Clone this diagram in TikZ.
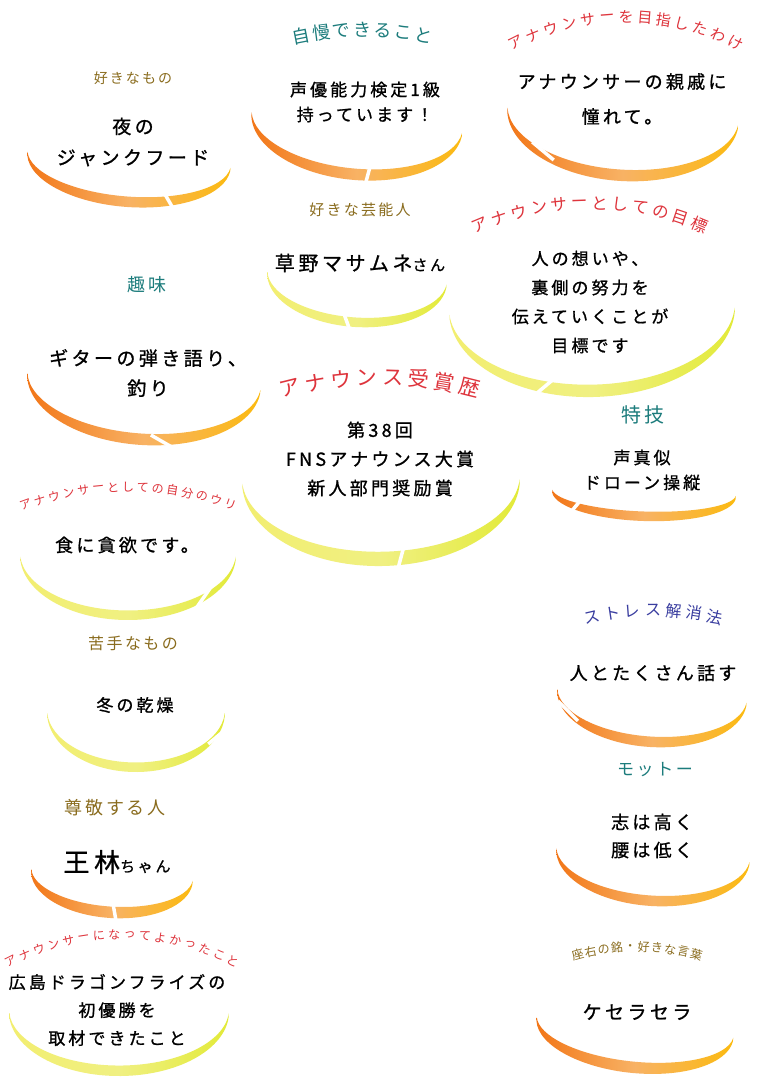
\documentclass[tikz,border=0pt]{standalone}
\usepackage{fontspec}
\usepackage{tikz}
\usetikzlibrary{calc}
\newfontfamily\jp[FakeBold=1,LetterSpace=18]{Noto Sans CJK JP}
\newfontfamily\jph[LetterSpace=15]{Noto Sans CJK JP}
\newfontfamily\jpa{Noto Sans CJK JP}
\definecolor{tealhead}{RGB}{28,124,124}
\definecolor{olivehead}{RGB}{138,108,30}
\definecolor{redhead}{RGB}{222,52,60}
\definecolor{bluehead}{RGB}{58,62,160}
\definecolor{bowlorange}{RGB}{242,118,24}
\definecolor{bowlpeach}{RGB}{248,178,100}
\definecolor{bowlamber}{RGB}{251,186,16}
\definecolor{bowllemon}{RGB}{242,238,112}
\definecolor{bowlpale}{RGB}{240,240,130}
\definecolor{bowllime}{RGB}{226,234,56}
\tikzset{%
  orangebowl/.style = {left color=bowlorange, right color=bowlamber,
        middle color=bowlpeach},
  yellowbowl/.style = {left color=bowllemon, right color=bowllime,
        middle color=bowlpale},
  cut/.style = {draw=white, line width=3.5pt},
  body/.style 2 args = {align=center, text=black,
        font=\jp\fontsize{#1}{#2}\selectfont},
  head/.style 2 args = {text=#2, font=\jph\fontsize{#1}{#1}\selectfont},
  arch/.style 2 args = {text=#2, inner sep=0pt,
        font=\jpa\fontsize{#1}{#1}\selectfont}
}
% centre, x radius, y radius, thickness, tilt, style
\newcommand{\bowl}[6]{%
  \shade[#6, shift={(#1)}, rotate=#5]
    (176:#2 and #3) arc[start angle=176, end angle=4, x radius=#2, y radius=#3]
    -- ++(0,-#4*0.3)
    arc[start angle=4, end angle=176, x radius=#2, y radius=#3-#4*0.7] -- cycle;
}
\newcommand{\notch}[2]{\draw[cut, shift={(#1)}, rotate=#2] (0,-14) -- (0,14);}
% name, centre, radius, step, count, style, letters
\newcommand{\archhead}[7]{%
  \foreach \ch [count=\i] in {#7} {
    \pgfmathsetmacro\del{((#5+1)/2-\i)*#4}
    \pgfmathsetmacro\ang{270-\del}
    \node[#6, rotate=\del] (#1-\i) at ($(#2)+(\ang:#3)$) {\ch};
  }
}
\begin{document}
\begin{tikzpicture}[x=1pt, y=-1pt]
    \path[fill=white] (0,0) rectangle (756,1084);
    \useasboundingbox (0,0) rectangle (756,1084);

    % bowls
    \bowl{129,160}{102}{47}{11}{-4.5}{orangebowl}
    \notch{170,203}{30}
    \bowl{357,122}{106}{58}{12}{-5.5}{orangebowl}
    \notch{367,178}{-15}
    \bowl{623,115}{116}{66}{12}{-4}{orangebowl}
    \notch{543,151}{50}
    \bowl{144,381}{117}{64}{12}{-4}{orangebowl}
    \notch{163,442}{60}
    \bowl{357,278}{90}{49}{10}{-4}{yellowbowl}
    \notch{348,325}{20}
    \bowl{592,309}{143}{88}{13}{1.5}{yellowbowl}
    \notch{543,388}{-50}
    \bowl{381,480}{139}{86}{15}{1}{yellowbowl}
    \notch{400,561}{-15}
    \bowl{644,494}{92}{27}{10}{-2}{orangebowl}
    \notch{570,513}{-40}
    \bowl{128,555}{108}{65}{10}{0}{yellowbowl}
    \notch{204,597}{-35}
    \bowl{136,712}{89}{60}{10}{0}{yellowbowl}
    \notch{219,735}{-50}
    \bowl{112,876}{81}{42}{12}{-4}{orangebowl}
    \notch{115,915}{10}
    \bowl{119,1012}{110}{64}{11}{0}{yellowbowl}
    \bowl{652,696}{95}{51}{11}{-4}{orangebowl}
    \notch{568,711}{45}
    \bowl{653,855}{97}{51}{11}{-4}{orangebowl}
    \bowl{635,1028}{99}{45}{12}{-6}{orangebowl}

    % headings
    \node[head={14}{olivehead}] (likes-h) at (133,78) {好きなもの};
    \archhead{boast}{362,348}{318}{3.7}{7}{arch={18}{tealhead}}{自,慢,で,き,る,こ,と}
    \archhead{why}{626,263}{246}{4.43}{13}{arch={15}{redhead}}{ア,ナ,ウ,ン,サ,ー,を,目,指,し,た,わ,け}
    \node[head={18}{tealhead}] (hobby-h) at (147,285) {趣味};
    \node[head={15}{olivehead}] (star-h) at (360,210) {好きな芸能人};
    \archhead{goal}{590,489}{286}{4.1}{12}{arch={16.5}{redhead}}{ア,ナ,ウ,ン,サ,ー,と,し,て,の,目,標}
    \archhead{award}{380,751}{374}{3.97}{8}{arch={21}{redhead}}{ア,ナ,ウ,ン,ス,受,賞,歴}
    \node[head={20}{tealhead}] (skill-h) at (643,415) {特技};
    \archhead{sell}{128,788}{301}{2.84}{15}{arch={12}{redhead}}{ア,ナ,ウ,ン,サ,ー,と,し,て,の,自,分,の,ウ,リ}
    \node[head={16}{olivehead}] (dislike-h) at (133,643) {苦手なもの};
    \node[head={18}{olivehead}] (respect-h) at (115,808) {尊敬する人};
    \archhead{glad}{122,1183}{248}{3.55}{16}{arch={12}{redhead}}{ア,ナ,ウ,ン,サ,ー,に,な,っ,て,よ,か,っ,た,こ,と}
    \archhead{stress}{653,884}{274}{4.3}{7}{arch={16}{bluehead}}{ス,ト,レ,ス,解,消,法}
    \node[head={17}{tealhead}] (motto-h) at (655,770) {モットー};
    \archhead{word}{637,1172}{225}{3.4}{10}{arch={12}{olivehead}}{座,右,の,銘,・,好,き,な,言,葉}

    % answers
    \node[body={19}{31}] (likes) at (133,142) {夜の\\ジャンクフード};
    \node[body={17}{25}] (boast) at (365,102) {声優能力検定1級\\持っています！};
    \node[body={18}{35}] (why) at (622,99) {アナウンサーの親戚に\\憧れて。};
    \node[body={19}{30}] (hobby) at (148,373) {ギターの弾き語り、\\釣り};
    \node[body={20}{24}] (star) at (360,263) {草野マサムネ{\fontsize{15}{18}\selectfont さん}};
    \node[body={17}{29}] (goal) at (590,302) {人の想いや、\\裏側の努力を\\伝えていくことが\\目標です};
    \node[body={18}{29}] (award) at (380,459) {第38回\\FNSアナウンス大賞\\新人部門奨励賞};
    \node[body={17}{25}] (skill) at (642,470) {声真似\\ドローン操縦};
    \node[body={18}{24}] (sell) at (127,545) {食に貪欲です。};
    \node[body={17}{24}] (dislike) at (135,705) {冬の乾燥};
    \node[body={26}{30}] (respect) at (117,862) {王林{\fontsize{15}{18}\selectfont ちゃん}};
    \node[body={17}{28}] (glad) at (117,1010) {広島ドラゴンフライズの\\初優勝を\\取材できたこと};
    \node[body={18}{24}] (stress) at (653,673) {人とたくさん話す};
    \node[body={18}{28}] (motto) at (652,836) {志は高く\\腰は低く};
    \node[body={19}{24}] (word) at (637,1012) {ケセラセラ};
\end{tikzpicture}
\end{document}
